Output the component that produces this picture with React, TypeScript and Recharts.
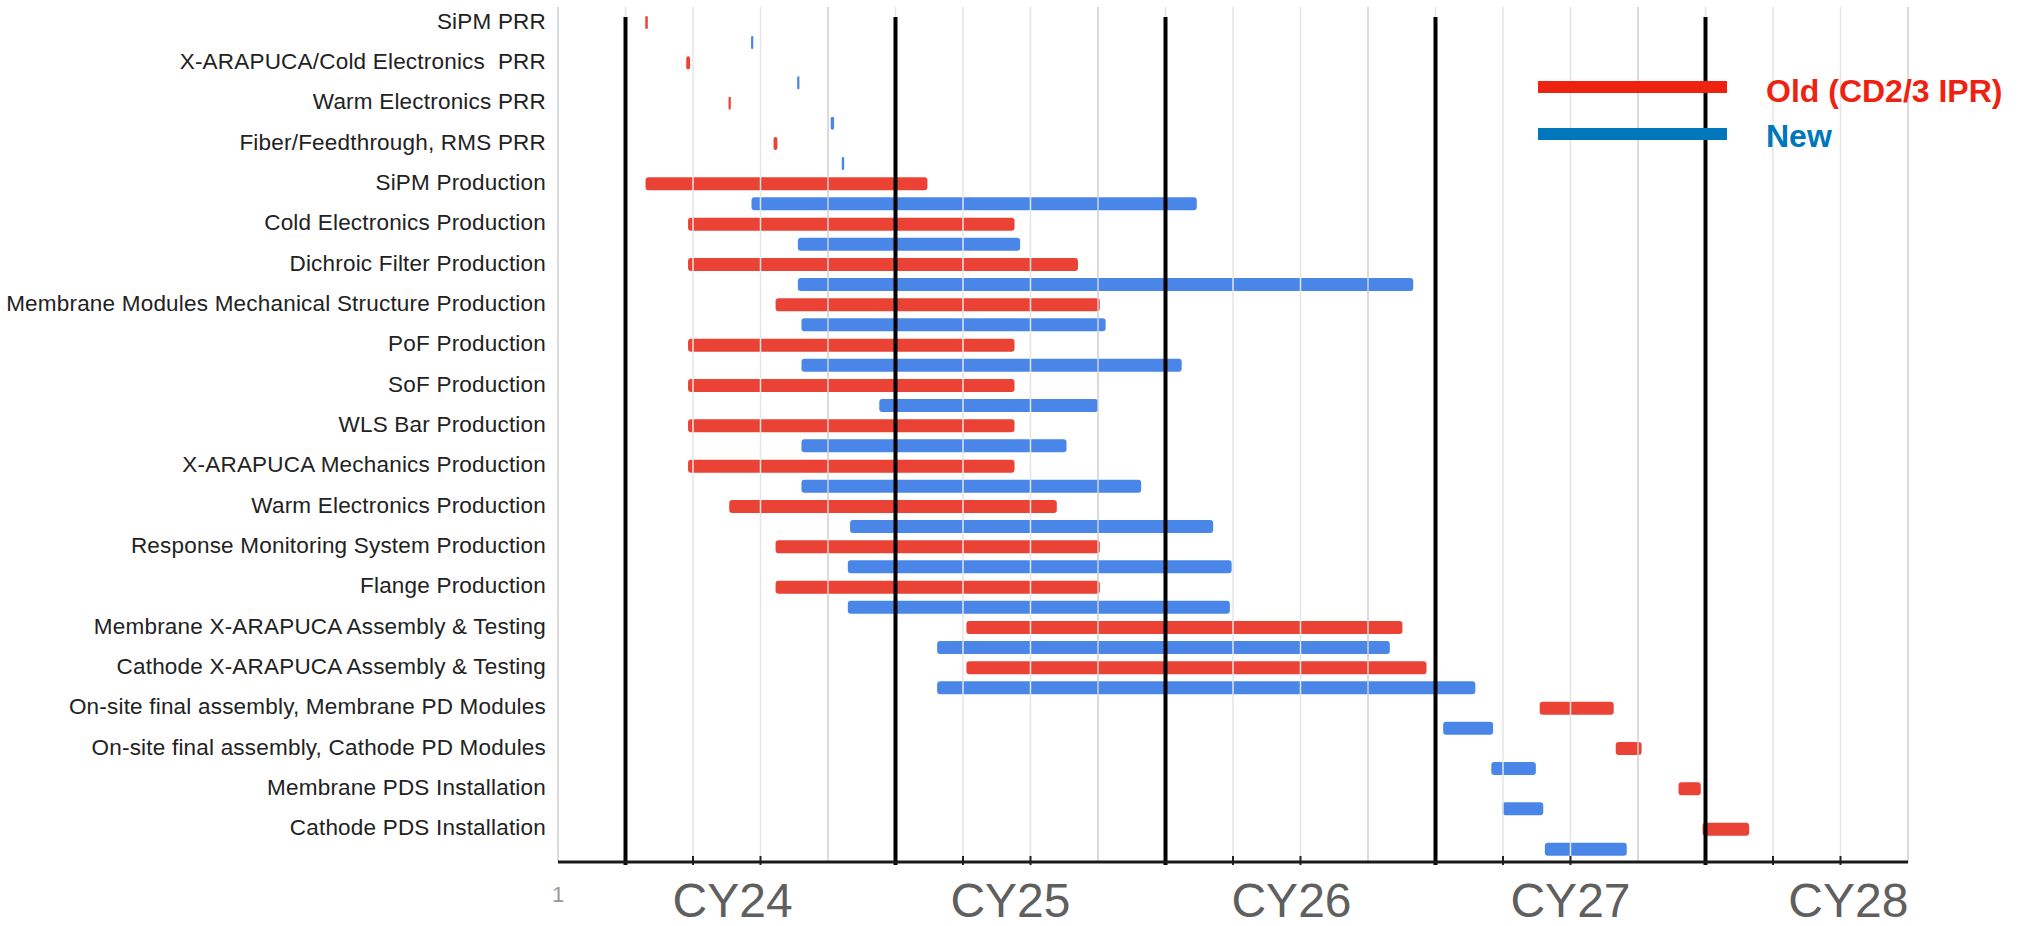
import React from "react";
import { BarChart, Bar, XAxis, YAxis, ReferenceLine } from "recharts";

// month 0 = left edge of the plot, one quarter before the first fiscal-year line
const tasks = [
  "SiPM PRR",
  "X-ARAPUCA/Cold Electronics  PRR",
  "Warm Electronics PRR",
  "Fiber/Feedthrough, RMS PRR",
  "SiPM Production",
  "Cold Electronics Production",
  "Dichroic Filter Production",
  "Membrane Modules Mechanical Structure Production",
  "PoF Production",
  "SoF Production",
  "WLS Bar Production",
  "X-ARAPUCA Mechanics Production",
  "Warm Electronics Production",
  "Response Monitoring System Production",
  "Flange Production",
  "Membrane X-ARAPUCA Assembly & Testing",
  "Cathode X-ARAPUCA Assembly & Testing",
  "On-site final assembly, Membrane PD Modules",
  "On-site final assembly, Cathode PD Modules",
  "Membrane PDS Installation",
  "Cathode PDS Installation",
];

const oldStart = [3.88, 5.7, 7.58, 9.58, 3.89, 5.78, 5.78, 9.67, 5.78, 5.78, 5.78, 5.78, 7.61, 9.67, 9.67, 18.15, 18.15, 43.63, 47.01, 49.8, 50.87];
const oldEnd = [3.99, 5.87, 7.68, 9.75, 16.42, 20.29, 23.11, 24.08, 20.29, 20.29, 20.29, 20.29, 22.17, 24.08, 24.08, 37.53, 38.6, 46.92, 48.16, 50.79, 52.94];
const newStart = [8.58, 10.63, 12.12, 12.61, 8.6, 10.66, 10.66, 10.82, 10.82, 14.28, 10.82, 10.82, 12.98, 12.88, 12.88, 16.85, 16.85, 39.34, 41.48, 41.97, 43.86];
const newEnd = [8.68, 10.73, 12.27, 12.72, 28.39, 20.54, 38.01, 24.34, 27.72, 24.0, 22.6, 25.92, 29.12, 29.94, 29.86, 36.97, 40.77, 41.56, 43.46, 43.79, 47.5];

const quarterTicks = [0, 3, 6, 9, 12, 15, 18, 21, 24, 27, 30, 33, 36, 39, 42, 45, 48, 51, 54, 57, 60];
const fiscalYearLines = [3, 15, 27, 39, 51];
const yearLabelPos = [0, 7.76, 20.11, 32.6, 45.0, 57.35];
const yearLabels = ["1", "CY24", "CY25", "CY26", "CY27", "CY28"];

const rows = tasks.map((task, i) => ({
  task,
  old: [oldStart[i], oldEnd[i]],
  new: [newStart[i], newEnd[i]],
}));

const FONT = "'Liberation Sans', Arial, Helvetica, sans-serif";

const TaskTick = (props: any) => {
  const { x, y, payload } = props;
  return (
    <text
      x={x}
      y={y - 11}
      textAnchor="end"
      dominantBaseline="central"
      fontSize={22.5}
      letterSpacing={0.2}
      fill="#222"
      fontFamily={FONT}
      xmlSpace="preserve"
      style={{ whiteSpace: "pre" }}
    >
      {payload.value}
    </text>
  );
};

const YearTick = (props: any) => {
  const { x, y, index } = props;
  const small = index === 0;
  return (
    <text
      x={x}
      y={y + (small ? 40 : 55)}
      textAnchor="middle"
      fontSize={small ? 22 : 48}
      fill={small ? "#9a9a9a" : "#5f5f5f"}
      fontFamily={FONT}
    >
      {yearLabels[index]}
    </text>
  );
};

const BoldLine = (p: any) => (
  <line
    x1={p.x1}
    x2={p.x2}
    y1={Math.min(p.y1, p.y2) + 10}
    y2={Math.max(p.y1, p.y2) + 3}
    stroke="#000"
    strokeWidth={4}
  />
);

// short tick mark across the x axis line
const TickMark = (p: any) => {
  const bottom = Math.max(p.y1, p.y2);
  return <line x1={p.x1} x2={p.x2} y1={bottom - 6} y2={bottom + 3} stroke="#222" strokeWidth={2} />;
};

export default function App() {
  return (
    <div style={{ position: "absolute", left: 0, top: 0, width: 2024, height: 926, background: "#fff" }}>
      <BarChart
        width={2024}
        height={926}
        data={rows}
        layout="vertical"
        barGap={7}
        margin={{ top: 7, right: 116, bottom: 0, left: 0 }}
      >
        <XAxis
          type="number"
          domain={[0, 60]}
          ticks={yearLabelPos}
          interval={0}
          height={64}
          tickSize={0}
          tickMargin={0}
          tickLine={false}
          tick={<YearTick />}
          axisLine={{ stroke: "#1a1a1a", strokeWidth: 3 }}
        />
        <YAxis
          type="category"
          dataKey="task"
          width={558}
          interval={0}
          padding={{ top: 5, bottom: 3 }}
          tickSize={0}
          tickMargin={12}
          tickLine={false}
          axisLine={false}
          tick={<TaskTick />}
        />
        {quarterTicks.map((m) => (
          <ReferenceLine
            key={"g" + m}
            x={m}
            stroke={m % 12 === 0 ? "#cfcfcf" : "#e4e4e4"}
            strokeWidth={1.5}
          />
        ))}
        <Bar dataKey="old" fill="#EA4335" barSize={13} radius={3} isAnimationActive={false} />
        <Bar dataKey="new" fill="#4A86E8" barSize={13} radius={3} isAnimationActive={false} />
        {quarterTicks
          .filter((m) => m % 12 !== 0)
          .map((m) => (
            <ReferenceLine key={"t" + m} x={m} shape={TickMark} />
          ))}
        {fiscalYearLines.map((m) => (
          <ReferenceLine key={"fy" + m} x={m} shape={BoldLine} />
        ))}
      </BarChart>

      {/* Legend */}
      <div style={{ position: "absolute", left: 1538, top: 81, width: 189, height: 12, background: "#EE2211" }} />
      <div style={{ position: "absolute", left: 1538, top: 128, width: 189, height: 12, background: "#0077BB" }} />
      <div
        style={{
          position: "absolute",
          left: 1766,
          top: 75,
          fontFamily: FONT,
          fontWeight: 700,
          fontSize: 32,
          lineHeight: "32px",
          color: "#EE2211",
          whiteSpace: "nowrap",
        }}
      >
        Old (CD2/3 IPR)
      </div>
      <div
        style={{
          position: "absolute",
          left: 1766,
          top: 120,
          fontFamily: FONT,
          fontWeight: 700,
          fontSize: 32,
          lineHeight: "32px",
          color: "#0077BB",
          whiteSpace: "nowrap",
        }}
      >
        New
      </div>
    </div>
  );
}
